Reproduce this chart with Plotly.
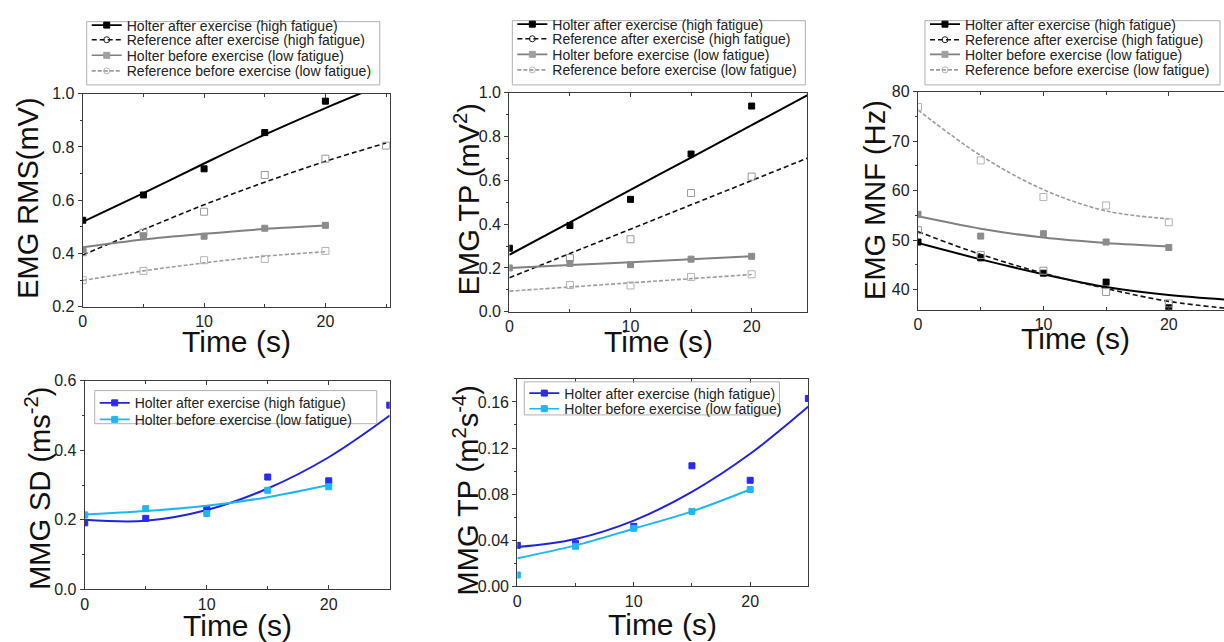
import plotly.graph_objects as go

# ---------------- data ----------------
t_fit = [0, 5, 10, 15, 20, 25]

# EMG RMS (mV)
rms_ha_x = [0, 5, 10, 15, 20]
rms_ha = [0.525, 0.62, 0.718, 0.854, 0.972]
rms_ha_fit = [0.519, 0.627, 0.738, 0.846, 0.946, 1.04]
rms_ra_x = [0, 5, 10, 15, 20, 25]
rms_ra = [0.405, 0.478, 0.557, 0.695, 0.756, 0.805]
rms_ra_fit = [0.395, 0.49, 0.583, 0.668, 0.746, 0.815]
rms_hb_x = [0, 5, 10, 15, 20]
rms_hb = [0.415, 0.467, 0.465, 0.495, 0.506]
rms_hb_fit = [0.424, 0.453, 0.474, 0.492, 0.505]
rms_rb_x = [0, 5, 10, 15, 20]
rms_rb = [0.30, 0.335, 0.375, 0.38, 0.41]
rms_rb_fit = [0.299, 0.335, 0.365, 0.39, 0.407]

# EMG TP (mV^2)
tp_ha_x = [0, 5, 10, 15, 20, 25]
tp_ha = [0.29, 0.394, 0.513, 0.72, 0.939, 0.963]
tp_ha_fit = [0.26, 0.408, 0.556, 0.704, 0.852, 1.0]
tp_ra_x = [5, 10, 15, 20, 25]
tp_ra = [0.245, 0.331, 0.542, 0.617, 0.703]
tp_ra_fit = [0.155, 0.266, 0.377, 0.488, 0.599, 0.71]
tp_hb_x = [0, 5, 10, 15, 20]
tp_hb = [0.2, 0.22, 0.215, 0.24, 0.253]
tp_hb_fit = [0.2, 0.213, 0.226, 0.24, 0.253]
tp_rb_x = [5, 10, 15, 20]
tp_rb = [0.122, 0.12, 0.159, 0.171]
tp_rb_fit = [0.094, 0.113, 0.132, 0.151, 0.170]

# EMG MNF (Hz)
mnf_ha_x = [0, 5, 10, 15, 20]
mnf_ha = [49.6, 46.4, 43.3, 41.5, 36.3]
mnf_ha_fit = [49.4, 46.1, 43.1, 40.5, 38.9, 37.9]
mnf_ra_x = [0, 5, 10, 15, 20]
mnf_ra = [52.0, 47.0, 43.8, 39.5, 37.2]
mnf_ra_fit = [51.7, 47.1, 43.3, 40.2, 37.6, 36.1]
mnf_hb_x = [0, 5, 10, 15, 20]
mnf_hb = [55.2, 50.8, 51.3, 49.6, 48.5]
mnf_hb_fit = [54.8, 52.3, 50.5, 49.4, 48.7]
mnf_rb_x = [0, 5, 10, 15, 20]
mnf_rb = [76.9, 66.1, 58.7, 57.0, 53.6]
mnf_rb_fit = [76.3, 67.1, 60.2, 55.9, 54.3]

# MMG SD (ms^-2)
sd_ha_x = [0, 5, 10, 15, 20, 25]
sd_ha = [0.191, 0.204, 0.232, 0.323, 0.312, 0.53]
sd_ha_fit = [0.2, 0.197, 0.228, 0.29, 0.38, 0.5]
sd_hb_x = [0, 5, 10, 15, 20]
sd_hb = [0.214, 0.232, 0.218, 0.285, 0.295]
sd_hb_fit = [0.215, 0.225, 0.24, 0.265, 0.3]

# MMG TP (m^2 s^-4)
mtp_ha_x = [0, 5, 10, 15, 20, 25]
mtp_ha = [0.0355, 0.037, 0.052, 0.1046, 0.092, 0.163]
mtp_ha_fit = [0.034, 0.041, 0.057, 0.082, 0.115, 0.156]
mtp_hb_x = [0, 5, 10, 15, 20]
mtp_hb = [0.0098, 0.0347, 0.0503, 0.065, 0.084]
mtp_hb_fit = [0.0243, 0.0355, 0.050, 0.065, 0.084]

names4 = ["Holter after exercise (high fatigue)",
          "Reference after exercise (high fatigue)",
          "Holter before exercise (low fatigue)",
          "Reference before exercise (low fatigue)"]
names2 = [names4[0], names4[2]]

# ---------------- layout helpers ----------------
W, H = 1224, 642
FONT = "Liberation Sans, Arial, sans-serif"
def fx(px):
    return px / W
def fy(py):
    return 1 - py / H

fig = go.Figure()

sty_gray = {
    "ha": dict(lc="#000000", dash="solid", lw=2.0, sym="square", mc="#000000", lsym="square", lmc="#000000"),
    "ra": dict(lc="#111111", dash="5px,3px", lw=1.6, sym="square-open", mc="#9a9a9a", lsym="circle-open", lmc="#222222"),
    "hb": dict(lc="#808080", dash="solid", lw=2.0, sym="square", mc="#8c8c8c", lsym="square", lmc="#a0a0a0"),
    "rb": dict(lc="#9c9c9c", dash="4px,2px", lw=1.6, sym="square-open", mc="#b4b4b4", lsym="circle-open", lmc="#b4b4b4"),
}
sty_blue = {
    "ha": dict(lc="#2323dc", dash="solid", lw=2.0, sym="square", mc="#2a2af0", lsym="square", lmc="#2a2af0"),
    "hb": dict(lc="#1fb6f0", dash="solid", lw=2.0, sym="square", mc="#1fb6f0", lsym="square", lmc="#1fb6f0"),
}

legend_count = [0]
layout_legends = {}

def add_series(ax, xpts, ypts, yfit, nfit, st, name, leg_x_px, leg_y_px):
    xa = "x" + ("" if ax == 1 else str(ax))
    ya = "y" + ("" if ax == 1 else str(ax))
    fig.add_trace(go.Scatter(x=t_fit[:nfit], y=yfit, mode="lines", xaxis=xa, yaxis=ya,
                             line=dict(color=st["lc"], dash=st["dash"], width=st["lw"], shape="spline", smoothing=1.0),
                             showlegend=False, hoverinfo="skip"))
    fig.add_trace(go.Scatter(x=xpts, y=ypts, mode="markers", xaxis=xa, yaxis=ya,
                             marker=dict(symbol=st["sym"], size=6 if "open" not in st["sym"] else 7,
                                         color=st["mc"], line=dict(color=st["mc"], width=1)),
                             showlegend=False))
    legend_count[0] += 1
    k = legend_count[0]
    lname = "legend" if k == 1 else "legend%d" % k
    fig.add_trace(go.Scatter(x=[None], y=[None], mode="lines+markers", xaxis=xa, yaxis=ya, name=name,
                             legend=lname,
                             line=dict(color=st["lc"], dash=st["dash"], width=1.6),
                             marker=dict(symbol=st["lsym"], size=6, color=st["lmc"],
                                         line=dict(color=st["lmc"], width=1))))
    layout_legends[lname] = dict(x=fx(leg_x_px), y=fy(leg_y_px), xanchor="left", yanchor="middle",
                                 bgcolor="rgba(0,0,0,0)", borderwidth=0, itemwidth=30,
                                 font=dict(family=FONT, size=14, color="#222222"))

panels = [
    (1, (79, 387, 88, 307), [0, 25.3], [0.2, 1.0], 0.2, 0.1, ".1f"),
    (2, (507, 806, 87, 312), [0, 24.6], [0.0, 1.0], 0.2, 0.1, ".1f"),
    (3, (917, 1224, 86, 310), [0, 24.4], [35.9, 80], 10, 5, "d"),
    (4, (81, 387, 383, 597), [0, 25.0], [0.0, 0.6], 0.2, 0.1, ".1f"),
    (5, (515, 807, 381, 594), [0, 25.0], [0.0, 0.18], 0.04, 0.02, ".2f"),
]

for pid, (l, r, tp, bt), xr, yr, ydt, ymin, yfmt in panels:
    xk = "xaxis" if pid == 1 else "xaxis%d" % pid
    yk = "yaxis" if pid == 1 else "yaxis%d" % pid
    anchor_x = "y" if pid == 1 else "y%d" % pid
    anchor_y = "x" if pid == 1 else "x%d" % pid
    fig.layout[xk] = dict(domain=[fx(l), fx(r)], range=xr, anchor=anchor_x,
                          showline=True, linecolor="#3c3c3c", linewidth=1.3, mirror="ticks",
                          ticks="inside", ticklen=4, tickcolor="#3c3c3c", dtick=10, tick0=0,
                          minor=dict(dtick=5, ticks="inside", ticklen=3, tickcolor="#3c3c3c"),
                          showgrid=False, zeroline=False,
                          tickfont=dict(family=FONT, size=16, color="#222222"))
    fig.layout[yk] = dict(domain=[fy(bt), fy(tp)], range=yr, anchor=anchor_y,
                          showline=True, linecolor="#3c3c3c", linewidth=1.3,
                          mirror=(pid != 3),
                          ticks="outside", ticklen=4, tickcolor="#3c3c3c", dtick=ydt, tick0=0,
                          tickformat=yfmt,
                          minor=dict(dtick=ymin, ticks="outside", ticklen=2, tickcolor="#3c3c3c"),
                          showgrid=False, zeroline=False,
                          tickfont=dict(family=FONT, size=16, color="#222222"))

# legend row centres (pixels from top), corrected for plotly's legend box offset
rows1 = [18, 33, 49, 65]
rows2 = [17, 32, 48, 64]
rows3 = [17, 33, 48, 64]
add_series(1, rms_ha_x, rms_ha, rms_ha_fit, 6, sty_gray["ha"], names4[0], 83, rows1[0])
add_series(1, rms_ra_x, rms_ra, rms_ra_fit, 6, sty_gray["ra"], names4[1], 83, rows1[1])
add_series(1, rms_hb_x, rms_hb, rms_hb_fit, 5, sty_gray["hb"], names4[2], 83, rows1[2])
add_series(1, rms_rb_x, rms_rb, rms_rb_fit, 5, sty_gray["rb"], names4[3], 83, rows1[3])
add_series(2, tp_ha_x, tp_ha, tp_ha_fit, 6, sty_gray["ha"], names4[0], 510, rows2[0])
add_series(2, tp_ra_x, tp_ra, tp_ra_fit, 6, sty_gray["ra"], names4[1], 510, rows2[1])
add_series(2, tp_hb_x, tp_hb, tp_hb_fit, 5, sty_gray["hb"], names4[2], 510, rows2[2])
add_series(2, tp_rb_x, tp_rb, tp_rb_fit, 5, sty_gray["rb"], names4[3], 510, rows2[3])
add_series(3, mnf_ha_x, mnf_ha, mnf_ha_fit, 6, sty_gray["ha"], names4[0], 924, rows3[0])
add_series(3, mnf_ra_x, mnf_ra, mnf_ra_fit, 6, sty_gray["ra"], names4[1], 924, rows3[1])
add_series(3, mnf_hb_x, mnf_hb, mnf_hb_fit, 5, sty_gray["hb"], names4[2], 924, rows3[2])
add_series(3, mnf_rb_x, mnf_rb, mnf_rb_fit, 5, sty_gray["rb"], names4[3], 924, rows3[3])
add_series(4, sd_ha_x, sd_ha, sd_ha_fit, 6, sty_blue["ha"], names2[0], 91, 406)
add_series(4, sd_hb_x, sd_hb, sd_hb_fit, 5, sty_blue["hb"], names2[1], 91, 423)
add_series(5, mtp_ha_x, mtp_ha, mtp_ha_fit, 6, sty_blue["ha"], names2[0], 522, 396)
add_series(5, mtp_hb_x, mtp_hb, mtp_hb_fit, 5, sty_blue["hb"], names2[1], 522, 412)

frames = [(83, 377, 14, 79), (510, 804, 13, 79), (924, 1220, 13, 79),
          (91, 374, 393, 427), (522, 778, 384, 418)]
shapes = []
for (a, b, c, d) in frames:
    shapes.append(dict(type="rect", xref="paper", yref="paper", x0=fx(a), x1=fx(b), y0=fy(d), y1=fy(c),
                       line=dict(color="#b0b0b0", width=1), fillcolor="rgba(0,0,0,0)", layer="above"))

ytitles = [("EMG RMS(mV)", 24, 195), ("EMG TP (mV<sup>2</sup>)", 464, 196), ("EMG MNF (Hz)", 874, 197),
           ("MMG SD (ms<sup>-2</sup>)", 34, 493), ("MMG TP (m<sup>2</sup>s<sup>-4</sup>)", 463, 495)]
annotations = []
for txt, x, y in ytitles:
    annotations.append(dict(text=txt, x=fx(x), y=fy(y), xref="paper", yref="paper", showarrow=False,
                            textangle=-90, xanchor="center", yanchor="middle",
                            font=dict(family=FONT, size=29, color="#111111")))
xtitles = [(233, 343), (657, 343), (1075, 340), (234, 634), (661, 633)]
for x, y in xtitles:
    annotations.append(dict(text="Time (s)", x=fx(x), y=fy(y), xref="paper", yref="paper", showarrow=False,
                            xanchor="center", yanchor="middle",
                            font=dict(family=FONT, size=30, color="#111111")))

fig.update_layout(width=W, height=H, margin=dict(l=0, r=0, t=0, b=0), autosize=False,
                  paper_bgcolor="white", plot_bgcolor="white", showlegend=True,
                  shapes=shapes, annotations=annotations, **layout_legends)

fig.write_html("out.html")
